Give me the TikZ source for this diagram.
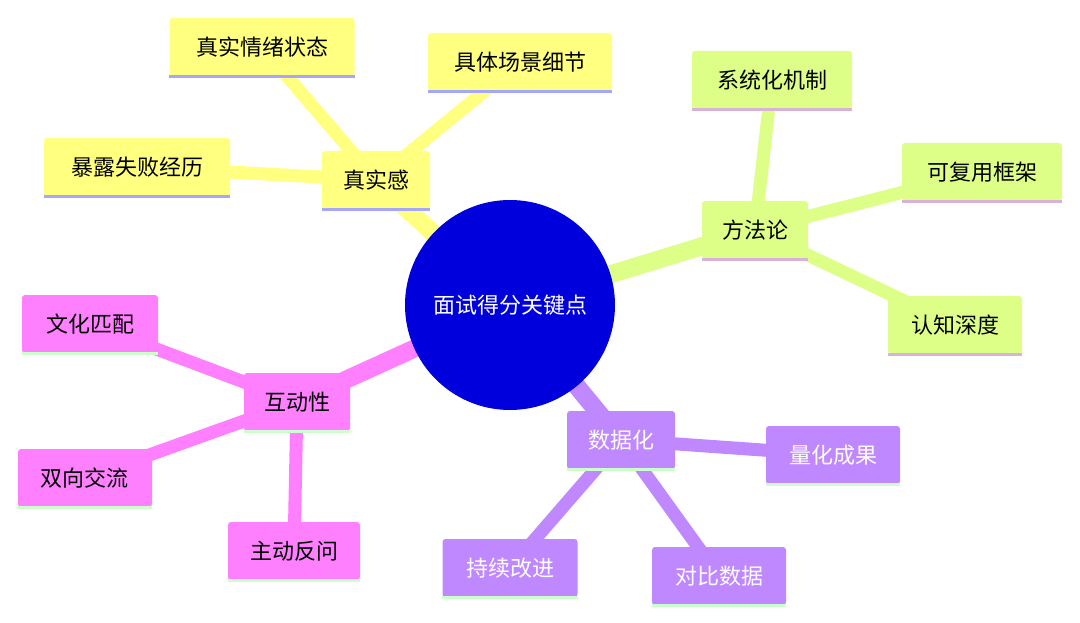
\documentclass[tikz,border=0pt]{standalone}
\usepackage{fontspec}
\setmainfont{Noto Sans CJK SC}
\begin{document}
\begin{tikzpicture}[x=1pt,y=-1pt,
 box/.style={draw=none,rounded corners=3pt,minimum height=58pt,inner sep=0pt,font=\fontsize{22}{26}\selectfont,append after command={
   (\tikzlastnode.south west) edge[draw=#1,line width=3pt,shorten <=0pt] (\tikzlastnode.south east)}},
 yb/.style={box=blue!35},
 gb/.style={box=violet!30},
 mb/.style={box=green!20},
 pb/.style={box=green!20,text=white},
 trunk/.style={line width=18pt},
 twig/.style={line width=13pt}]
\useasboundingbox (0,0) rectangle (1080,623);
\definecolor{Y}{HTML}{FFFF80}
\definecolor{G}{HTML}{DDFF88}
\definecolor{M}{HTML}{FF80FF}
\definecolor{P}{HTML}{C088FF}
\coordinate (c) at (510,305);
\coordinate (a) at (376,180);
\coordinate (a1) at (262,47);
\coordinate (a2) at (520,62);
\coordinate (a3) at (137,167);
\coordinate (b) at (755,230);
\coordinate (b1) at (772,80);
\coordinate (b2) at (982,172);
\coordinate (b3) at (955,325);
\coordinate (m) at (297,402);
\coordinate (m1) at (90,324);
\coordinate (m2) at (85,478);
\coordinate (m3) at (294,551);
\coordinate (p) at (621,440);
\coordinate (p1) at (833,455);
\coordinate (p2) at (510,568);
\coordinate (p3) at (719,576);
\draw[Y,trunk] (c)--(a); \draw[Y,twig] (a)--(a1) (a)--(a2) (a)--(a3);
\draw[G,trunk] (c)--(b); \draw[G,twig] (b)--(b1) (b)--(b2) (b)--(b3);
\draw[M,trunk] (c)--(m); \draw[M,twig] (m)--(m1) (m)--(m2) (m)--(m3);
\draw[P,trunk] (c)--(p); \draw[P,twig] (p)--(p1) (p)--(p2) (p)--(p3);
\node[circle,fill={rgb,255:red,0;green,0;blue,220},minimum size=210pt,text=white,font=\fontsize{22}{26}\selectfont] (C) at (c) {面试得分关键点};
\node[yb,fill=Y,minimum width=108pt] (A) at (a) {真实感};
\node[yb,fill=Y,minimum width=185pt] (A1) at (a1) {真实情绪状态};
\node[yb,fill=Y,minimum width=184pt] (A2) at (a2) {具体场景细节};
\node[yb,fill=Y,minimum width=186pt] (A3) at (a3) {暴露失败经历};
\node[gb,fill=G,minimum width=106pt] (B) at (b) {方法论};
\node[gb,fill=G,minimum width=160pt] (B1) at (b1) {系统化机制};
\node[gb,fill=G,minimum width=160pt] (B2) at (b2) {可复用框架};
\node[gb,fill=G,minimum width=134pt] (B3) at (b3) {认知深度};
\node[mb,fill=M,minimum width=106pt] (Mm) at (m) {互动性};
\node[mb,fill=M,minimum width=136pt] (M1) at (m1) {文化匹配};
\node[mb,fill=M,minimum width=134pt] (M2) at (m2) {双向交流};
\node[mb,fill=M,minimum width=132pt] (M3) at (m3) {主动反问};
\node[pb,fill=P,minimum width=108pt] (Pp) at (p) {数据化};
\node[pb,fill=P,minimum width=134pt] (P1) at (p1) {量化成果};
\node[pb,fill=P,minimum width=135pt] (P2) at (p2) {持续改进};
\node[pb,fill=P,minimum width=134pt] (P3) at (p3) {对比数据};
\end{tikzpicture}
\end{document}
